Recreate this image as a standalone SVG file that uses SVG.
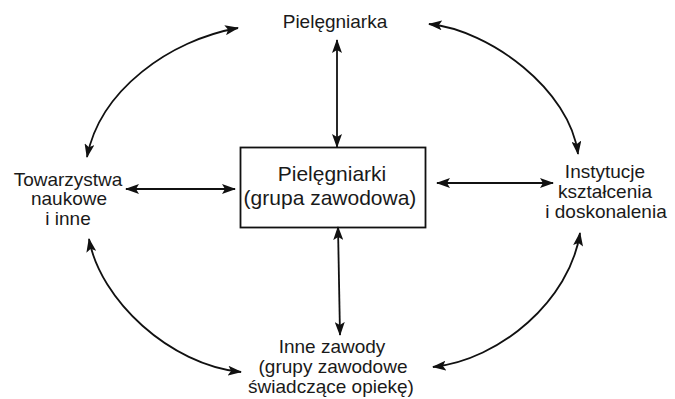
<svg xmlns="http://www.w3.org/2000/svg" width="675" height="399" viewBox="0 0 675 399">
  <style>
    .lbl { font-family: "Liberation Sans", Arial, sans-serif; font-size: 19px; fill: #1a1a1a; text-anchor: middle; }
    .big { font-size: 21px; }
    .conn { fill: none; stroke: #111; stroke-width: 1.8; marker-start: url(#head); marker-end: url(#head); }
  </style>
  <defs>
    <marker id="head" viewBox="0 0 14 10" refX="13" refY="5" markerWidth="14" markerHeight="10" markerUnits="userSpaceOnUse" orient="auto-start-reverse">
      <path d="M0,0 L14,5 L0,10 L3,5 z" fill="#111"/>
    </marker>
  </defs>
  <rect width="675" height="399" fill="#fff"/>

  <g id="connectors">
    <!-- outer ring of curved two-way arrows -->
    <path class="conn" d="M87,157 C100,90 170,40 238,28"/>
    <path class="conn" d="M429,24 C490,30 570,90 578,154"/>
    <path class="conn" d="M89,239 C100,300 170,365 241,372"/>
    <path class="conn" d="M580,233 C570,300 500,360 433,367"/>
    <!-- spokes to the central box -->
    <path class="conn" d="M337,40 L337,147"/>
    <path class="conn" d="M338,227 L340,335"/>
    <path class="conn" d="M126,189 L235,189"/>
    <path class="conn" d="M437,183 L553,183"/>
  </g>

  <g id="center">
    <rect x="240.5" y="147.5" width="185" height="80" fill="none" stroke="#111" stroke-width="1.8"/>
    <text class="lbl big" x="332" y="181">Pielęgniarki</text>
    <text class="lbl big" x="330" y="205">(grupa zawodowa)</text>
  </g>

  <g id="top">
    <text class="lbl" x="335" y="28">Pielęgniarka</text>
  </g>

  <g id="left">
    <text class="lbl" x="68" y="186">Towarzystwa</text>
    <text class="lbl" x="69" y="205">naukowe</text>
    <text class="lbl" x="68" y="225">i inne</text>
  </g>

  <g id="right">
    <text class="lbl" x="605" y="178">Instytucje</text>
    <text class="lbl" x="605" y="198">kształcenia</text>
    <text class="lbl" x="606" y="218">i doskonalenia</text>
  </g>

  <g id="bottom">
    <text class="lbl" x="332" y="353">Inne zawody</text>
    <text class="lbl" x="333" y="373">(grupy zawodowe</text>
    <text class="lbl" x="331" y="393">świadczące opiekę)</text>
  </g>
</svg>
